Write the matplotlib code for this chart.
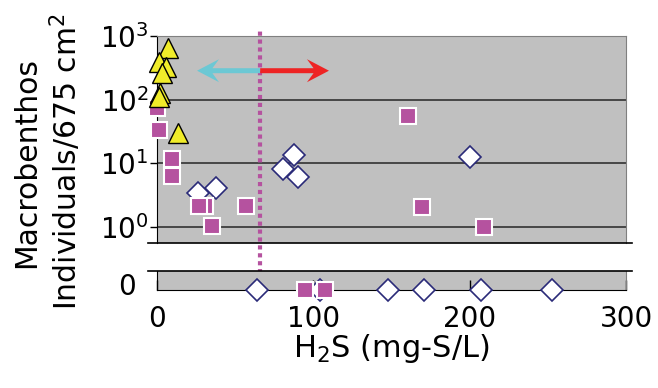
import matplotlib
matplotlib.use("Agg")
import matplotlib.pyplot as plt
from matplotlib.lines import Line2D
from matplotlib.patches import FancyArrow
from matplotlib.transforms import ScaledTranslation, IdentityTransform
import matplotlib.ticker as mticker

# ---- data ----
tri_x = [7.0, 1.3, 5.7, 3.0, 1.9, 1.3, 13.6]
tri_y = [644, 386, 323, 263, 129, 112, 30]

sq_x = [0.0, 1.0, 9.4, 9.4, 30.6, 26.8, 35.5, 56.8, 160.8, 169.7, 209.3]
sq_y = [74, 33, 11.7, 6.3, 2.1, 2.1, 1.04, 2.1, 55.5, 2.06, 1.0]
sq0_x = [94.7, 107.5]

dia_x = [26.0, 37.7, 87.6, 80.6, 90.2, 200.2]
dia_y = [3.4, 4.06, 13.5, 8.1, 6.1, 12.6]
dia0_x = [64.2, 104.0, 147.8, 170.8, 207.3, 252.7]

threshold = 66
arrow_y = 285
arrow_left = 25.6
arrow_right = 110

xticks = [0, 100, 200, 300]
yticks_log = [1, 10, 100, 1000]
ytick_labels = [r'$\mathdefault{10^{0}}$', r'$\mathdefault{10^{1}}$',
                r'$\mathdefault{10^{2}}$', r'$\mathdefault{10^{3}}$']

# ---- styles ----
GRAY = '#C0C0C0'
MAG = '#B5529F'
NAVY = '#2A2A78'
YEL = '#F0EC2A'
plt.rcParams['font.family'] = ['DejaVu Sans']
plt.rcParams['mathtext.fontset'] = 'dejavusans'

DPI = 100
fig = plt.figure(figsize=(6.58, 3.88), dpi=DPI)
W_, H_ = 658, 388
L = 157 / W_
Wd = 469 / W_
ax = fig.add_axes([L, (H_ - 243) / H_, Wd, (243 - 36) / H_])
ax2 = fig.add_axes([L, (H_ - 290) / H_, Wd, (290 - 271) / H_])

for a in (ax, ax2):
    a.set_facecolor(GRAY)
    a.set_xlim(0, 300)

ax.set_yscale('log')
ax.set_ylim(10 ** (-16 / 63.67), 1000)
ax.set_yticks(yticks_log)
ax.set_yticklabels(ytick_labels)
ax.yaxis.set_minor_locator(mticker.NullLocator())
ax.tick_params(axis='y', direction='out', length=5, width=1, pad=1, labelsize=20)
ax.tick_params(axis='x', bottom=False, labelbottom=False)
for yv in yticks_log:
    ax.axhline(yv, color='#262626', lw=1.1, zorder=1)
ax.spines['left'].set_color('black')
ax.spines['top'].set_color('#808080')
ax.spines['right'].set_color('#808080')
ax.spines['bottom'].set_visible(False)

ax2.set_ylim(0, 1)
ax2.set_yticks([0])
ax2.set_yticklabels(['0'])
ax2.tick_params(axis='y', length=0, pad=15, labelsize=20)
for lab in ax2.get_yticklabels():
    lab.set_transform(lab.get_transform() + ScaledTranslation(0, 4 / 72, fig.dpi_scale_trans))
ax2.set_xticks(xticks)
ax2.tick_params(axis='x', direction='in', length=7, width=1, pad=11, labelsize=20)
ax2.spines['top'].set_visible(False)
ax2.spines['right'].set_color('#808080')
ax2.spines['left'].set_color('black')
ax2.spines['bottom'].set_color('black')
ax2.set_xlabel(r'H$_2$S (mg-S/L)', fontsize=22, labelpad=-1)

# break lines extending beyond the plot
for ypx in (243, 271):
    fig.add_artist(Line2D([148 / W_, 632 / W_], [(H_ - ypx) / H_] * 2,
                          transform=fig.transFigure, color='black', lw=1.2))

# markers
ax.plot(dia_x, dia_y, linestyle='none', marker='D', ms=11, mfc='white', mec=NAVY,
        mew=1.2, clip_on=False, zorder=4)
for sx, sy in zip(sq_x, sq_y):
    ax.plot([sx], [sy], linestyle='none', marker='s', ms=11.5, mfc=MAG, mec='white',
            mew=1.5, clip_on=False, zorder=5)
ax.plot(tri_x, tri_y, linestyle='none', marker='^', ms=14, mfc=YEL, mec='black',
        mew=1.0, clip_on=False, zorder=6)

ax2.plot(dia0_x, [0] * len(dia0_x), linestyle='none', marker='D', ms=11, mfc='white',
         mec=NAVY, mew=1.2, clip_on=False, zorder=4)
ax2.plot(sq0_x, [0] * len(sq0_x), linestyle='none', marker='s', ms=11.5, mfc=MAG,
         mec='white', mew=1.5, clip_on=False, zorder=5)

# threshold dotted line spanning both panels
ln = ax.axvline(threshold, ymin=(243 - 297) / 207, ymax=(243 - 30) / 207, color=MAG,
                lw=3, linestyle=(0, (1, 0.9)), clip_on=False, zorder=7)
ln.set_dash_capstyle('butt')

# arrows (barbed heads), positioned from data coordinates
p0 = ax.transData.transform((threshold, arrow_y))
pl = ax.transData.transform((arrow_left, arrow_y))
pr = ax.transData.transform((arrow_right, arrow_y))
for tip, col in ((pl, '#6CC8D4'), (pr, '#EE2424')):
    arr = FancyArrow(p0[0], p0[1], tip[0] - p0[0], 0, width=5, head_width=23,
                     head_length=22, overhang=0.3, length_includes_head=True,
                     transform=IdentityTransform(), color=col, lw=0, zorder=8)
    fig.add_artist(arr)

# y label (two lines)
fig.text(27 / W_, (H_ - 163) / H_, 'Macrobenthos', rotation=90, ha='center',
         va='center', fontsize=21.5)
fig.text(66 / W_, (H_ - 162) / H_, r'Individuals/675 cm$^2$', rotation=90,
         ha='center', va='center', fontsize=21.5)

fig.savefig('out.png', dpi=DPI)
